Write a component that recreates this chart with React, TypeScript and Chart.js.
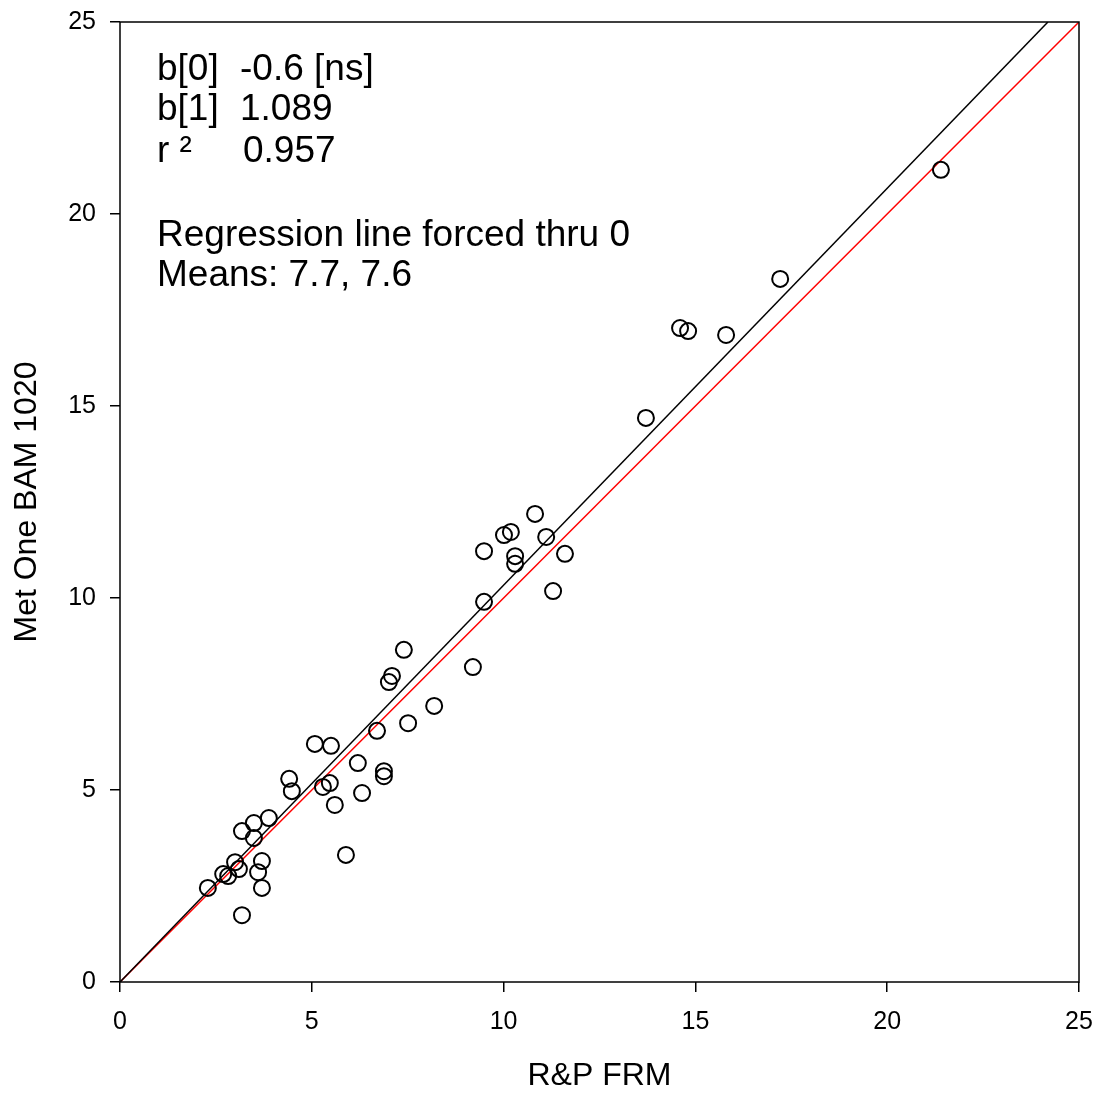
import React, { useEffect, useRef } from "react";
import { Chart, registerables } from "chart.js";

Chart.register(...registerables);

// R&P FRM (x) values
const frmValues: number[] = [
  2.29, 2.69, 2.82, 3.0, 3.1, 3.18, 3.18, 3.49, 3.49, 3.6, 3.7, 3.7,
  3.88, 4.41, 4.48, 5.08, 5.29, 5.47, 5.5, 5.6, 5.89, 6.2, 6.31, 6.7,
  6.88, 6.88, 7.01, 7.09, 7.4, 7.51, 8.19, 9.2, 9.49, 9.49, 10.01, 10.19,
  10.3, 10.3, 10.82, 11.11, 11.29, 11.6, 13.71, 14.6, 14.81, 15.8, 17.21, 21.4,
];
// Met One BAM 1020 (y) values
const bamValues: number[] = [
  2.45, 2.81, 2.76, 3.12, 2.94, 1.74, 3.93, 4.14, 3.75, 2.86, 3.15, 2.45,
  4.27, 5.29, 4.97, 6.2, 5.08, 5.18, 6.15, 4.61, 3.31, 5.7, 4.92, 6.54,
  5.49, 5.36, 7.81, 7.97, 8.65, 6.74, 7.19, 8.2, 11.22, 9.9, 11.64, 11.72,
  11.09, 10.89, 12.19, 11.59, 10.18, 11.15, 14.69, 17.03, 16.95, 16.85, 18.31, 21.15,
];

// Regression line (forced thru 0) endpoints
const regLineX: number[] = [0, 24.19];
const regLineY: number[] = [0, 25];
// 1:1 line endpoints
const oneToOneX: number[] = [0, 25];
const oneToOneY: number[] = [0, 25];

const axisTicks: number[] = [0, 5, 10, 15, 20, 25];

const statLabels: string[] = ["b[0]", "b[1]", "r \u00B2"];
const statValues: string[] = ["-0.6 [ns]", "1.089", "0.957"];
const noteLines: string[] = ["Regression line forced thru 0", "Means: 7.7, 7.6"];

const FONT = '"Liberation Sans", Arial, sans-serif';

export default function App() {
  const canvasRef = useRef<HTMLCanvasElement | null>(null);

  useEffect(() => {
    const canvas = canvasRef.current;
    if (!canvas) return;

    const boxPlugin = {
      id: "boxAndText",
      afterDraw(chart: any) {
        const { ctx, chartArea } = chart;
        ctx.save();
        ctx.strokeStyle = "#000";
        ctx.lineWidth = 1.5;
        ctx.strokeRect(chartArea.left, chartArea.top, chartArea.right - chartArea.left, chartArea.bottom - chartArea.top);
        ctx.fillStyle = "#000";
        ctx.textBaseline = "middle";
        ctx.textAlign = "left";
        ctx.font = `37px ${FONT}`;
        const x0 = chartArea.left + 37;
        const x1 = chartArea.left + 120;
        const rowY = [48, 88, 130];
        statLabels.forEach((lab, i) => {
          ctx.fillText(lab, x0, chartArea.top + rowY[i]);
          ctx.fillText(statValues[i], x1 + (i === 2 ? 3 : 0), chartArea.top + rowY[i]);
        });
        const noteY = [214, 254];
        noteLines.forEach((t, i) => ctx.fillText(t, x0, chartArea.top + noteY[i]));
        ctx.restore();
      },
    };

    const scatterPts = frmValues.map((x, i) => ({ x, y: bamValues[i] }));

    const zeroPad = (scale: any) => {
      scale.paddingTop = 0;
      scale.paddingBottom = 0;
      scale.paddingLeft = 0;
      scale.paddingRight = 0;
    };

    const chart = new Chart(canvas, {
      type: "scatter",
      data: {
        datasets: [
          {
            label: "Data",
            data: scatterPts,
            showLine: false,
            pointRadius: 8,
            pointHoverRadius: 8,
            pointBorderWidth: 2,
            pointBorderColor: "#000",
            pointBackgroundColor: "rgba(0,0,0,0)",
          },
          {
            label: "Regression",
            data: regLineX.map((x, i) => ({ x, y: regLineY[i] })),
            showLine: true,
            borderColor: "#000",
            borderWidth: 1.5,
            pointRadius: 0,
            fill: false,
          },
          {
            label: "1:1",
            data: oneToOneX.map((x, i) => ({ x, y: oneToOneY[i] })),
            showLine: true,
            borderColor: "#ff0000",
            borderWidth: 1.5,
            pointRadius: 0,
            fill: false,
          },
        ],
      },
      options: {
        responsive: false,
        animation: false,
        events: [],
        layout: { padding: { top: 22, right: 18, left: 0, bottom: 0 } },
        plugins: {
          legend: { display: false },
          tooltip: { enabled: false },
        },
        scales: {
          x: {
            type: "linear",
            min: 0,
            max: 25,
            afterBuildTicks: (scale: any) => {
              scale.ticks = axisTicks.map((v) => ({ value: v }));
            },
            afterFit: (scale: any) => {
              scale.height = 111;
              zeroPad(scale);
            },
            ticks: {
              color: "#000",
              font: { family: FONT, size: 25 },
              padding: 15,
              maxRotation: 0,
            },
            grid: {
              display: true,
              drawOnChartArea: false,
              drawTicks: true,
              tickLength: 10,
              color: "#000",
              lineWidth: 1.5,
            },
            border: { display: false },
            title: {
              display: true,
              text: "R&P FRM",
              color: "#000",
              font: { family: FONT, size: 32, lineHeight: 1 },
              padding: { top: 0, bottom: 1 },
            },
          },
          y: {
            type: "linear",
            min: 0,
            max: 25,
            afterBuildTicks: (scale: any) => {
              scale.ticks = axisTicks.map((v) => ({ value: v }));
            },
            afterFit: (scale: any) => {
              scale.width = 120;
              zeroPad(scale);
            },
            ticks: {
              color: "#000",
              font: { family: FONT, size: 25 },
              padding: 14,
            },
            grid: {
              display: true,
              drawOnChartArea: false,
              drawTicks: true,
              tickLength: 10,
              color: "#000",
              lineWidth: 1.5,
            },
            border: { display: false },
            title: {
              display: true,
              text: "Met One BAM 1020",
              color: "#000",
              font: { family: FONT, size: 32, lineHeight: 1 },
              padding: { top: 11, bottom: 0 },
            },
          },
        },
      },
      plugins: [boxPlugin],
    });

    return () => chart.destroy();
  }, []);

  return (
    <div style={{ position: "fixed", left: 0, top: 0, width: 1097, height: 1093, background: "#fff" }}>
      <canvas ref={canvasRef} width={1097} height={1093} />
    </div>
  );
}
